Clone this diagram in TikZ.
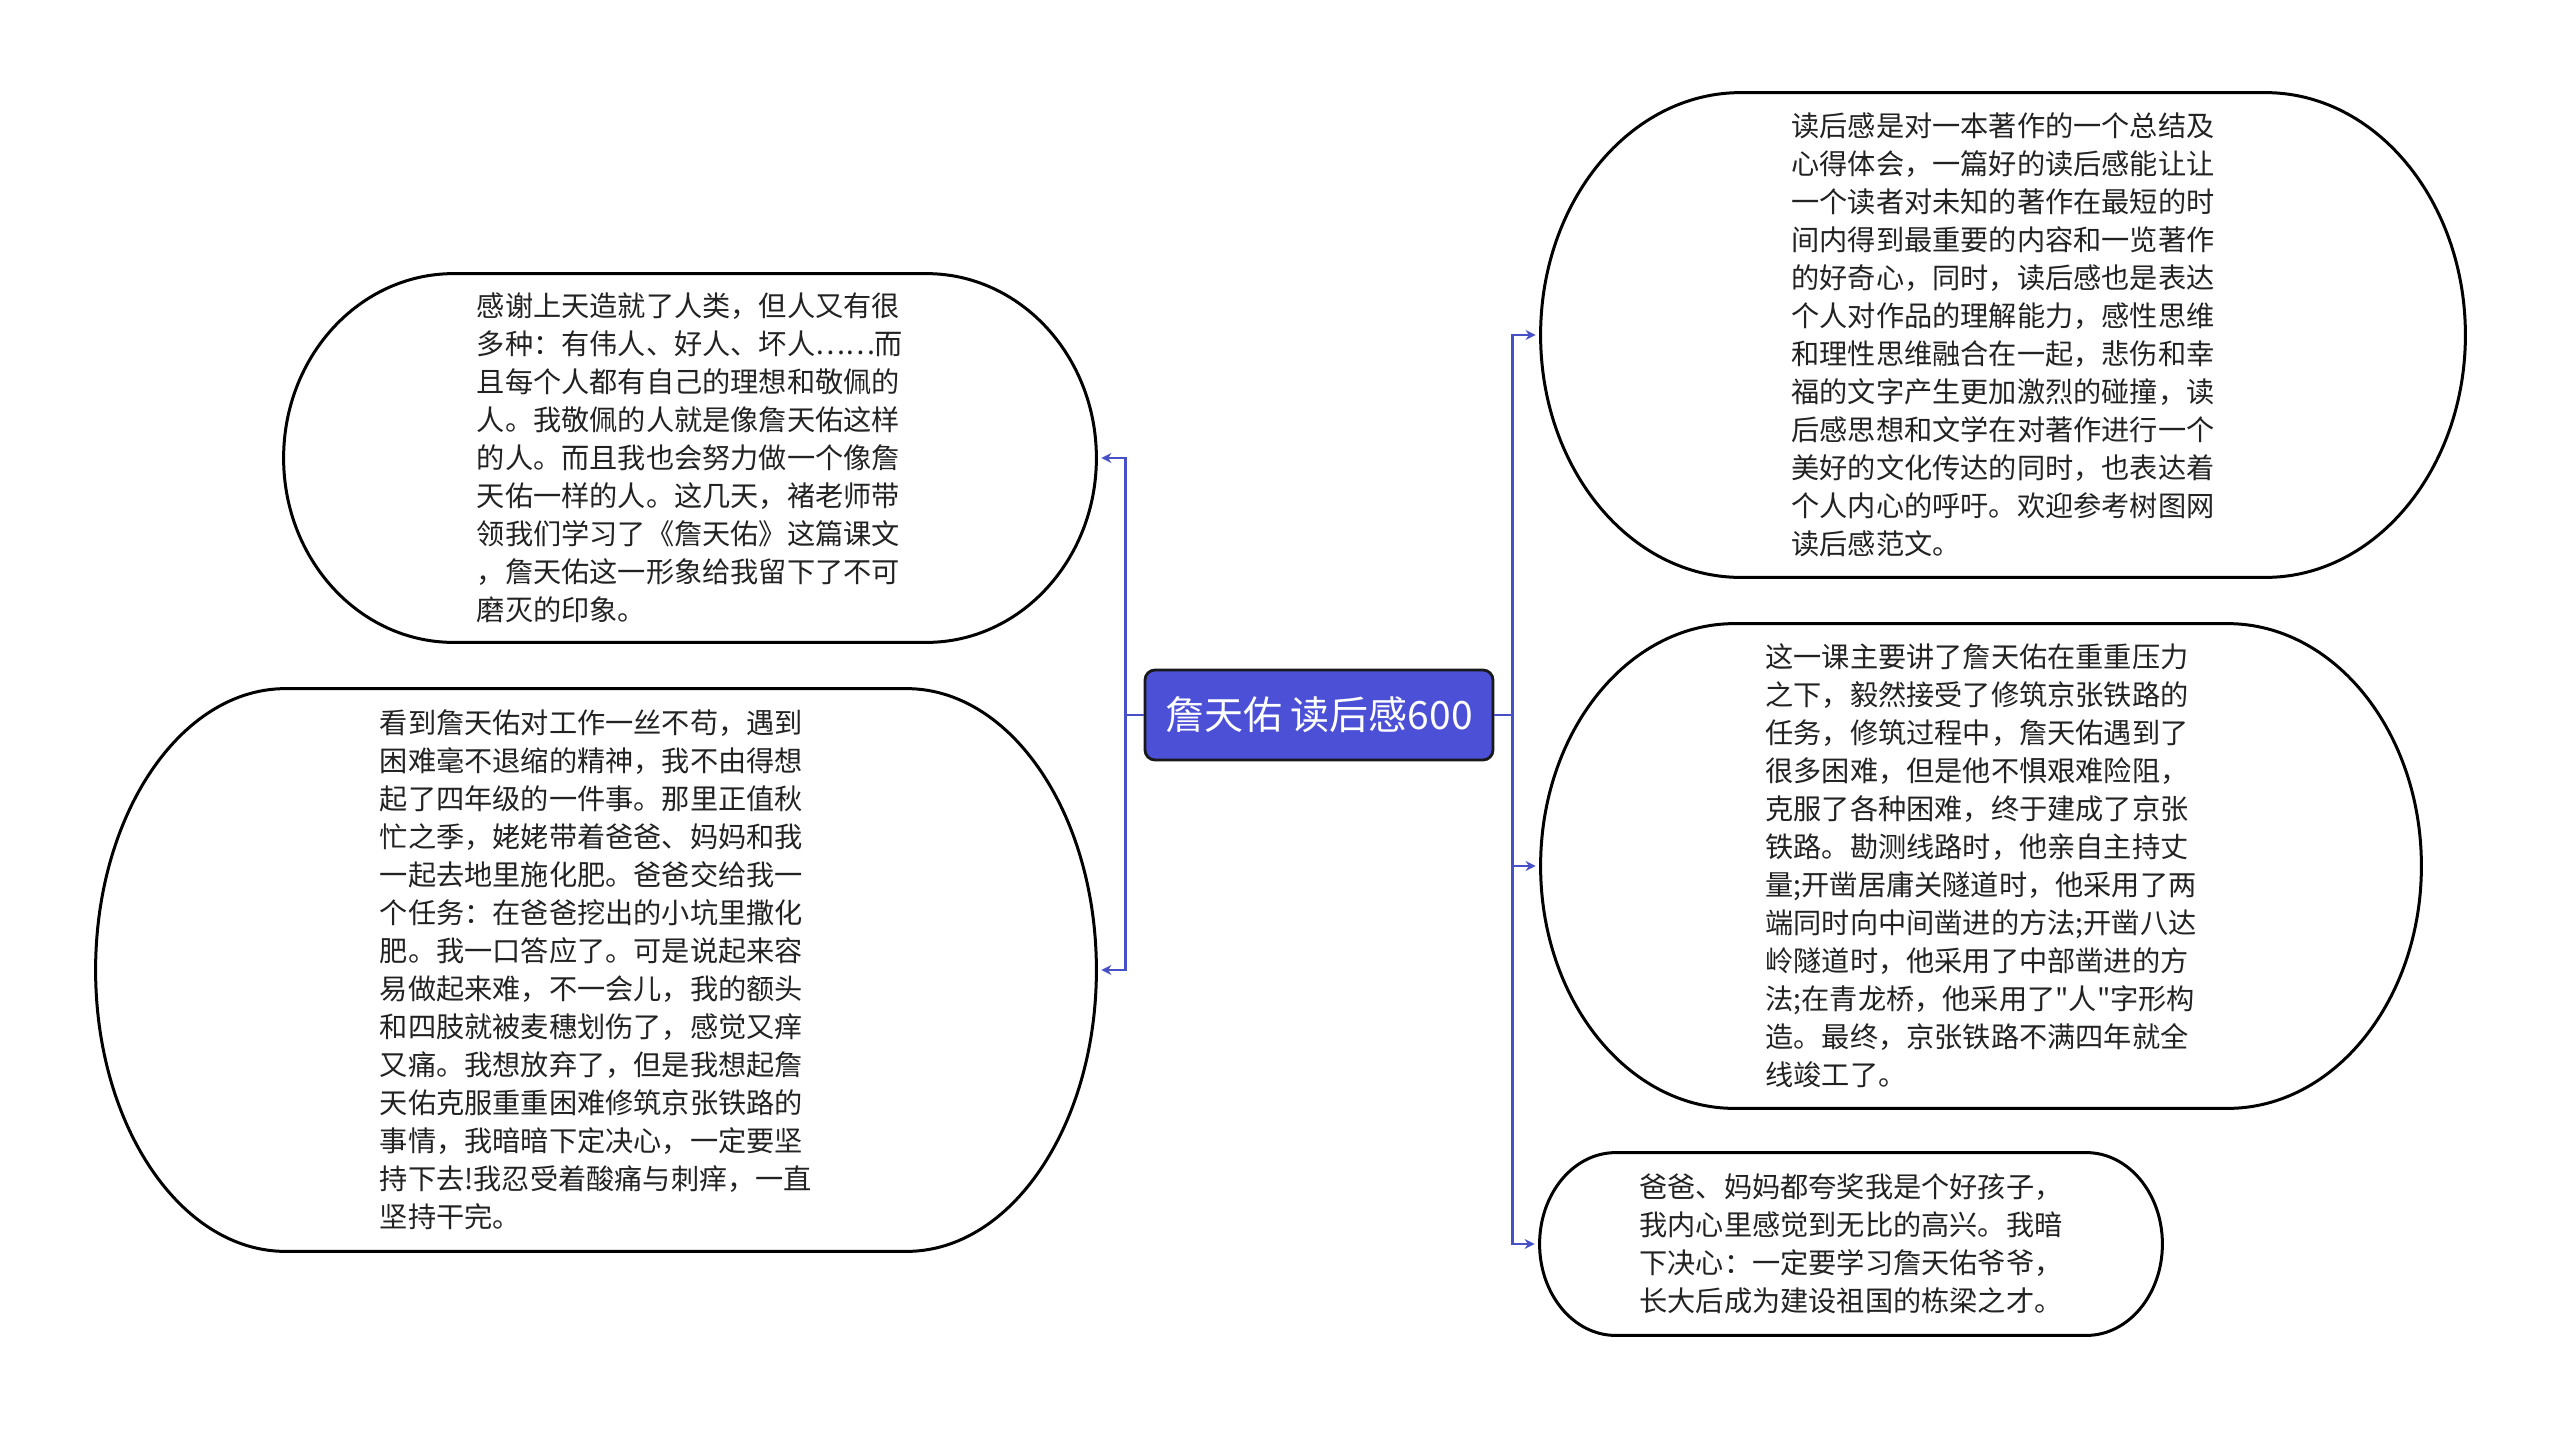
\documentclass[tikz,border=0pt]{standalone}
\usepackage{fontspec}
\setmainfont{Noto Sans CJK SC}[Ligatures=TeXOff]
\usepackage{tikz}
\usetikzlibrary{arrows.meta, positioning, calc}
\definecolor{TitleBlue}{HTML}{4B50D6}
\definecolor{LinkBlue}{HTML}{4850C8}
\definecolor{NoteText}{HTML}{222222}
% outline with elliptic ends round a named node: #1 node, #2 end radius
\newcommand\pillaround[2]{%
  \draw[line width=1.5pt] let \p1=(#1.north west), \p2=(#1.south east),
    \n1={(\y1-\y2)/2} in
    (\x1+#2,\y1) -- (\x2-#2,\y1)
    arc[start angle=90, end angle=-90, x radius=#2, y radius=\n1]
    -- (\x1+#2,\y2)
    arc[start angle=270, end angle=90, x radius=#2, y radius=\n1] -- cycle;}

\begin{document}
\begin{tikzpicture}[x=0.5pt, y=-0.5pt, >={Stealth[length=5pt, width=5pt]},
  note/.style={align=left, text=NoteText, font=\fontsize{14.1}{19}\selectfont,
    inner sep=0pt},
  link/.style={->, draw=LinkBlue, line width=1.2pt, shorten >=2.5pt}]
  \useasboundingbox (0,0) rectangle (2560,1431);

  % central topic
  \node[draw=black!90, line width=1.4pt, fill=TitleBlue, rounded corners=5pt, text=white,
    font=\fontsize{19.5}{22}\selectfont, minimum width=174pt, minimum height=45pt]
    (root) at (1319,715) {詹天佑 读后感600};

  % left branches
  \node[note, minimum width=406pt, minimum height=184pt]
    (thanks) at (690,458) {感谢上天造就了人类，但人又有很\\多种：有伟人、好人、坏人……而\\且每个人都有自己的理想和敬佩的\\人。我敬佩的人就是像詹天佑这样\\的人。而且我也会努力做一个像詹\\天佑一样的人。这几天，褚老师带\\领我们学习了《詹天佑》这篇课文\\，詹天佑这一形象给我留下了不可\\磨灭的印象。};
  \node[note, minimum width=500pt, minimum height=281pt]
    (farm) at (596,970) {看到詹天佑对工作一丝不苟，遇到\\困难毫不退缩的精神，我不由得想\\起了四年级的一件事。那里正值秋\\忙之季，姥姥带着爸爸、妈妈和我\\一起去地里施化肥。爸爸交给我一\\个任务：在爸爸挖出的小坑里撒化\\肥。我一口答应了。可是说起来容\\易做起来难，不一会儿，我的额头\\和四肢就被麦穗划伤了，感觉又痒\\又痛。我想放弃了，但是我想起詹\\天佑克服重重困难修筑京张铁路的\\事情，我暗暗下定决心，一定要坚\\持下去!我忍受着酸痛与刺痒，一直\\坚持干完。};

  % right branches
  \node[note, minimum width=462pt, minimum height=242pt]
    (about) at (2003,335) {读后感是对一本著作的一个总结及\\心得体会，一篇好的读后感能让让\\一个读者对未知的著作在最短的时\\间内得到最重要的内容和一览著作\\的好奇心，同时，读后感也是表达\\个人对作品的理解能力，感性思维\\和理性思维融合在一起，悲伤和幸\\福的文字产生更加激烈的碰撞，读\\后感思想和文学在对著作进行一个\\美好的文化传达的同时，也表达着\\个人内心的呼吁。欢迎参考树图网\\读后感范文。};
  \node[note, minimum width=440pt, minimum height=242pt]
    (lesson) at (1981,866) {这一课主要讲了詹天佑在重重压力\\之下，毅然接受了修筑京张铁路的\\任务，修筑过程中，詹天佑遇到了\\很多困难，但是他不惧艰难险阻，\\克服了各种困难，终于建成了京张\\铁路。勘测线路时，他亲自主持丈\\量;开凿居庸关隧道时，他采用了两\\端同时向中间凿进的方法;开凿八达\\岭隧道时，他采用了中部凿进的方\\法;在青龙桥，他采用了"人"字形构\\造。最终，京张铁路不满四年就全\\线竣工了。};
  \node[note, minimum width=311pt, minimum height=91pt]
    (resolve) at (1851,1244) {爸爸、妈妈都夸奖我是个好孩子，\\我内心里感觉到无比的高兴。我暗\\下决心：一定要学习詹天佑爷爷，\\长大后成为建设祖国的栋梁之才。};

  \pillaround{thanks}{85pt}
  \pillaround{farm}{95pt}
  \pillaround{about}{100pt}
  \pillaround{lesson}{97pt}
  \pillaround{resolve}{38pt}

  % connectors
  \draw[link] (root.west) -- ++(-18,0) |- (thanks.east);
  \draw[link] (root.west) -- ++(-18,0) |- (farm.east);
  \draw[link] (root.east) -- ++(18,0) |- (about.west);
  \draw[link] (root.east) -- ++(18,0) |- (lesson.west);
  \draw[link] (root.east) -- ++(18,0) |- (resolve.west);
\end{tikzpicture}
\end{document}
